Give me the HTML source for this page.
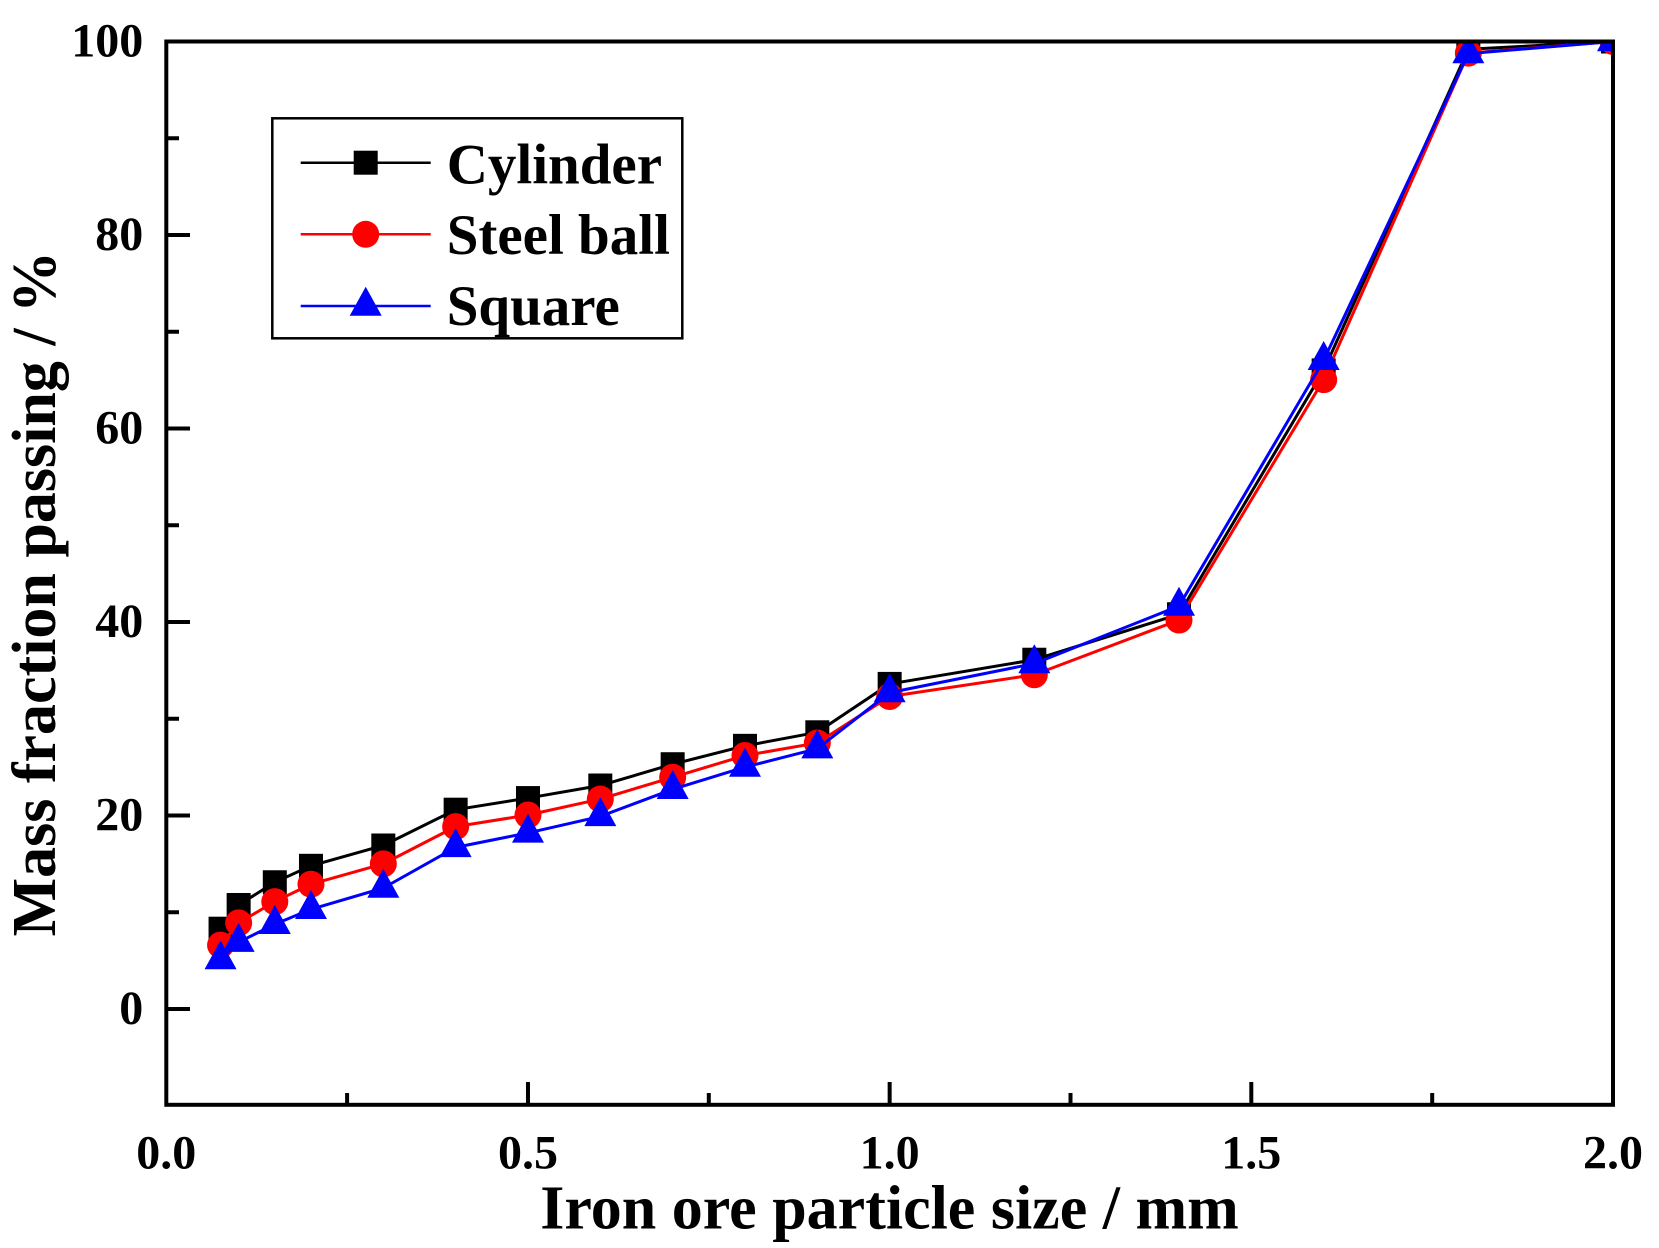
<!DOCTYPE html>
<html>
<head>
<meta charset="utf-8">
<style>
html,body{margin:0;padding:0;background:#fff;}
svg{display:block;}
text{font-family:"Liberation Serif","Times New Roman",serif;font-weight:bold;fill:#000;}
</style>
</head>
<body>
<svg width="1659" height="1248" viewBox="0 0 1659 1248" xmlns="http://www.w3.org/2000/svg">
<defs>
<clipPath id="pc"><rect x="166" y="41.5" width="1447" height="1063.5"/></clipPath>
<rect id="sq" x="-12" y="-12" width="24" height="24"/>
<circle id="ci" cx="0" cy="0" r="13.5"/>
<polygon id="tr" points="0,-19.3 16,9.7 -16,9.7"/>
</defs>
<rect width="1659" height="1248" fill="#fff"/>
<g clip-path="url(#pc)">
<!-- Cylinder -->
<polyline fill="none" stroke="#000" stroke-width="3" stroke-linejoin="round" points="220.55,928.70 238.64,904.99 274.80,882.26 310.97,865.81 383.31,845.49 455.64,809.69 527.98,798.08 600.31,785.51 672.65,764.22 744.98,745.84 817.32,732.29 889.65,683.92 1034.32,659.73 1178.99,614.26 1323.66,370.4 1468.33,49.24 1613,41.5"/>
<g fill="#000">
<use href="#sq" x="220.55" y="928.70"/><use href="#sq" x="238.64" y="904.99"/><use href="#sq" x="274.80" y="882.26"/><use href="#sq" x="310.97" y="865.81"/><use href="#sq" x="383.31" y="845.49"/><use href="#sq" x="455.64" y="809.69"/><use href="#sq" x="527.98" y="798.08"/><use href="#sq" x="600.31" y="785.51"/><use href="#sq" x="672.65" y="764.22"/><use href="#sq" x="744.98" y="745.84"/><use href="#sq" x="817.32" y="732.29"/><use href="#sq" x="889.65" y="683.92"/><use href="#sq" x="1034.32" y="659.73"/><use href="#sq" x="1178.99" y="614.26"/><use href="#sq" x="1323.66" y="370.4"/><use href="#sq" x="1468.33" y="49.24"/><use href="#sq" x="1613" y="41.5"/>
</g>
<!-- Steel ball -->
<polyline fill="none" stroke="#f00" stroke-width="3" stroke-linejoin="round" points="220.55,945.14 238.64,922.89 274.80,901.61 310.97,884.19 383.31,863.87 455.64,826.63 527.98,815.02 600.31,799.05 672.65,777.28 744.98,755.51 817.32,742.94 889.65,696.50 1034.32,674.73 1178.99,620.06 1323.66,379.64 1468.33,53.11 1613,41.5"/>
<g fill="#f00">
<use href="#ci" x="220.55" y="945.14"/><use href="#ci" x="238.64" y="922.89"/><use href="#ci" x="274.80" y="901.61"/><use href="#ci" x="310.97" y="884.19"/><use href="#ci" x="383.31" y="863.87"/><use href="#ci" x="455.64" y="826.63"/><use href="#ci" x="527.98" y="815.02"/><use href="#ci" x="600.31" y="799.05"/><use href="#ci" x="672.65" y="777.28"/><use href="#ci" x="744.98" y="755.51"/><use href="#ci" x="817.32" y="742.94"/><use href="#ci" x="889.65" y="696.50"/><use href="#ci" x="1034.32" y="674.73"/><use href="#ci" x="1178.99" y="620.06"/><use href="#ci" x="1323.66" y="379.64"/><use href="#ci" x="1468.33" y="53.11"/><use href="#ci" x="1613" y="41.5"/>
</g>
<!-- Square -->
<polyline fill="none" stroke="#00f" stroke-width="3" stroke-linejoin="round" points="220.55,959.6 238.64,942.2 274.80,924.3 310.97,909.3 383.31,888.0 455.64,847.4 527.98,832.9 600.31,816.4 672.65,789.3 744.98,767.1 817.32,748.7 889.65,692.6 1034.32,663.6 1178.99,606.0 1323.66,360.3 1468.33,53.6 1613,41.5"/>
<g fill="#00f">
<use href="#tr" x="220.55" y="959.6"/><use href="#tr" x="238.64" y="942.2"/><use href="#tr" x="274.80" y="924.3"/><use href="#tr" x="310.97" y="909.3"/><use href="#tr" x="383.31" y="888.0"/><use href="#tr" x="455.64" y="847.4"/><use href="#tr" x="527.98" y="832.9"/><use href="#tr" x="600.31" y="816.4"/><use href="#tr" x="672.65" y="789.3"/><use href="#tr" x="744.98" y="767.1"/><use href="#tr" x="817.32" y="748.7"/><use href="#tr" x="889.65" y="692.6"/><use href="#tr" x="1034.32" y="663.6"/><use href="#tr" x="1178.99" y="606.0"/><use href="#tr" x="1323.66" y="360.3"/><use href="#tr" x="1468.33" y="53.6"/><use href="#tr" x="1613" y="41.5"/>
</g>
</g>

<!-- Axes frame -->
<rect x="166.3" y="41.5" width="1446.7" height="1063.3" fill="none" stroke="#000" stroke-width="4"/>

<!-- Y ticks -->
<g stroke="#000" stroke-width="4">
<line x1="166" y1="1009" x2="190" y2="1009"/>
<line x1="166" y1="815.5" x2="190" y2="815.5"/>
<line x1="166" y1="622" x2="190" y2="622"/>
<line x1="166" y1="428.5" x2="190" y2="428.5"/>
<line x1="166" y1="235" x2="190" y2="235"/>
<line x1="166" y1="912.25" x2="179" y2="912.25"/>
<line x1="166" y1="718.75" x2="179" y2="718.75"/>
<line x1="166" y1="525.25" x2="179" y2="525.25"/>
<line x1="166" y1="331.75" x2="179" y2="331.75"/>
<line x1="166" y1="138.25" x2="179" y2="138.25"/>
<!-- X ticks -->
<line x1="527.98" y1="1105" x2="527.98" y2="1082"/>
<line x1="889.65" y1="1105" x2="889.65" y2="1082"/>
<line x1="1251.3" y1="1105" x2="1251.3" y2="1082"/>
<line x1="347.1" y1="1105" x2="347.1" y2="1093"/>
<line x1="708.8" y1="1105" x2="708.8" y2="1093"/>
<line x1="1070.5" y1="1105" x2="1070.5" y2="1093"/>
<line x1="1432.2" y1="1105" x2="1432.2" y2="1093"/>
</g>

<!-- Y tick labels -->
<g font-size="48" text-anchor="end">
<text x="143.3" y="56.5">100</text>
<text x="143.3" y="250">80</text>
<text x="143.3" y="443.5">60</text>
<text x="143.3" y="637">40</text>
<text x="143.3" y="830.5">20</text>
<text x="143.3" y="1024">0</text>
</g>
<!-- X tick labels -->
<g font-size="48" text-anchor="middle">
<text x="166.3" y="1168.3">0.0</text>
<text x="527.98" y="1168.3">0.5</text>
<text x="889.65" y="1168.3">1.0</text>
<text x="1251.3" y="1168.3">1.5</text>
<text x="1613" y="1168.3">2.0</text>
</g>

<!-- Axis titles -->
<text x="889.5" y="1228.3" font-size="62" text-anchor="middle">Iron ore particle size / mm</text>
<text transform="translate(55,593.7) rotate(-90)" font-size="62" text-anchor="middle">Mass fraction passing / %</text>

<!-- Legend -->
<rect x="272.3" y="118.3" width="410" height="220" fill="#fff" stroke="#000" stroke-width="2.5"/>
<line x1="300.7" y1="162.7" x2="430.7" y2="162.7" stroke="#000" stroke-width="2.5"/>
<use href="#sq" x="365.7" y="162.7" fill="#000"/>
<line x1="300.7" y1="234.3" x2="430.7" y2="234.3" stroke="#f00" stroke-width="2.5"/>
<use href="#ci" x="365.7" y="234.3" fill="#f00"/>
<line x1="300.7" y1="306" x2="430.7" y2="306" stroke="#00f" stroke-width="2.5"/>
<use href="#tr" x="365.7" y="306" fill="#00f"/>
<g font-size="57">
<text x="446.7" y="183.3">Cylinder</text>
<text x="446.7" y="254">Steel ball</text>
<text x="446.7" y="325">Square</text>
</g>
</svg>
</body>
</html>
